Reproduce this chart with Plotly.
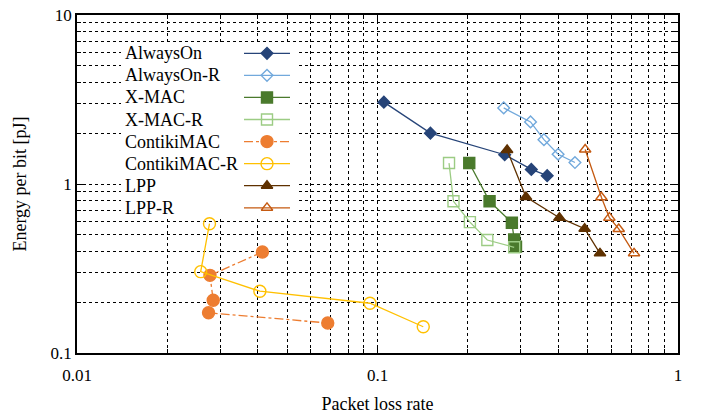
import plotly.graph_objects as go

# ---------------- data ----------------
series_names = ["AlwaysOn", "AlwaysOn-R", "X-MAC", "X-MAC-R",
                "ContikiMAC", "ContikiMAC-R", "LPP", "LPP-R"]

alwayson_x = [0.105, 0.150, 0.265, 0.325, 0.367]
alwayson_y = [3.05, 2.00, 1.49, 1.22, 1.12]

alwayson_r_x = [0.263, 0.323, 0.358, 0.399, 0.454]
alwayson_r_y = [2.82, 2.33, 1.83, 1.50, 1.34]

xmac_x = [0.202, 0.236, 0.280, 0.285, 0.289]
xmac_y = [1.33, 0.79, 0.59, 0.47, 0.426]

xmac_r_x = [0.173, 0.179, 0.203, 0.232, 0.285]
xmac_r_y = [1.33, 0.79, 0.595, 0.466, 0.422]

contiki_x = [0.0414, 0.0277, 0.0284, 0.0274, 0.0683]
contiki_y = [0.396, 0.288, 0.205, 0.173, 0.1505]

contiki_r_x = [0.0276, 0.0258, 0.0406, 0.0944, 0.142]
contiki_r_y = [0.582, 0.303, 0.232, 0.197, 0.143]

lpp_x = [0.270, 0.312, 0.403, 0.489, 0.550]
lpp_y = [1.59, 0.838, 0.632, 0.544, 0.389]

lpp_r_x = [0.491, 0.556, 0.591, 0.635, 0.714]
lpp_r_y = [1.60, 0.835, 0.632, 0.542, 0.389]

x_tick_vals = [0.01, 0.1, 1]
x_tick_text = ["0.01", "0.1", "1"]
y_tick_vals = [0.1, 1, 10]
y_tick_text = ["0.1", "1", "10"]

# ---------------- styles ----------------
xs = [alwayson_x, alwayson_r_x, xmac_x, xmac_r_x, contiki_x, contiki_r_x, lpp_x, lpp_r_x]
ys = [alwayson_y, alwayson_r_y, xmac_y, xmac_r_y, contiki_y, contiki_r_y, lpp_y, lpp_r_y]
colors = ["#264478", "#72a9dc", "#4a7a2c", "#9ccc84",
          "#ed7d31", "#ffc000", "#5f3100", "#c55a11"]
symbols = ["diamond", "diamond-open", "square", "square-open",
           "circle", "circle-open", "triangle-up", "triangle-up-open"]
sizes = [9, 9, 11, 11, 12, 12, 10, 10]
dashes = ["solid", "solid", "solid", "solid", "dashdot", "solid", "solid", "solid"]

FONT = "Liberation Serif, Times New Roman, serif"

W, H = 702, 414
PLOT_L, PLOT_R, PLOT_T, PLOT_B = 77, 678, 15, 353   # plot box in page px
ML, MT, MR, MB = PLOT_L, PLOT_T, W - PLOT_R, H - PLOT_B
PW, PH = PLOT_R - PLOT_L, PLOT_B - PLOT_T


def fx(px):
    return (px - PLOT_L) / PW


def fy(py):
    return (PLOT_B - py) / PH


fig = go.Figure()

for i, name in enumerate(series_names):
    fig.add_trace(go.Scatter(
        x=xs[i], y=ys[i], mode="lines+markers", name=name,
        line=dict(color=colors[i], width=1.3, dash=dashes[i]),
        marker=dict(symbol=symbols[i], size=sizes[i], color=colors[i],
                    line=dict(color=colors[i], width=1.4)),
        showlegend=False,
    ))

# ---------------- custom legend (text left, sample right) ----------------
BOX = (121, 298, 44, 217)
ROW0, ROWDY = 53.3, 22.07
TXT_X, S_X0, S_X1 = 123, 244, 290

fig.add_trace(go.Scatter(
    x=[fx(BOX[0]), fx(BOX[1]), fx(BOX[1]), fx(BOX[0]), fx(BOX[0])],
    y=[fy(BOX[2]), fy(BOX[2]), fy(BOX[3]), fy(BOX[3]), fy(BOX[2])],
    mode="lines", fill="toself", fillcolor="white", line=dict(width=0, color="white"),
    xaxis="x2", yaxis="y2", showlegend=False, hoverinfo="skip"))

annotations = []
for i, name in enumerate(series_names):
    ry = fy(ROW0 + i * ROWDY)
    fig.add_trace(go.Scatter(
        x=[fx(S_X0), fx(S_X1)], y=[ry, ry], mode="lines",
        line=dict(color=colors[i], width=1.3, dash=dashes[i]),
        xaxis="x2", yaxis="y2", showlegend=False, hoverinfo="skip"))
    fig.add_trace(go.Scatter(
        x=[fx((S_X0 + S_X1) / 2)], y=[ry], mode="markers",
        marker=dict(symbol=symbols[i], size=sizes[i], color=colors[i],
                    line=dict(color=colors[i], width=1.4)),
        xaxis="x2", yaxis="y2", showlegend=False, hoverinfo="skip"))
    annotations.append(dict(
        x=fx(TXT_X), y=ry, xref="paper", yref="paper", text=name,
        showarrow=False, xanchor="left", yanchor="middle",
        font=dict(family=FONT, size=18, color="black")))

minor_x = [m * 10 ** e for e in (-2, -1) for m in range(2, 10)]
minor_y = [m * 10 ** e for e in (-1, 0) for m in range(2, 10)]

axis_common = dict(
    type="log", showline=True, linecolor="black", linewidth=1.5, mirror="ticks",
    ticks="inside", ticklen=8, tickwidth=1, tickcolor="black",
    showgrid=True, gridcolor="black", gridwidth=1, griddash="dot",
    zeroline=False, automargin=False, ticklabeloverflow="allow",
    tickfont=dict(family=FONT, size=17, color="black"),
)

fig.update_layout(
    width=W, height=H,
    margin=dict(l=ML, r=MR, t=MT, b=MB, autoexpand=False),
    paper_bgcolor="white", plot_bgcolor="white",
    font=dict(family=FONT, color="black"),
    xaxis=dict(
        **axis_common, range=[-2, 0], ticklabelstandoff=6,
        tickmode="array", tickvals=x_tick_vals, ticktext=x_tick_text,
        minor=dict(tickmode="array", tickvals=minor_x, ticks="inside", ticklen=4,
                   tickcolor="black", showgrid=True, gridcolor="black",
                   gridwidth=1, griddash="dot"),
        title=dict(text="Packet loss rate", font=dict(family=FONT, size=18), standoff=25),
    ),
    yaxis=dict(
        **axis_common, range=[-1, 1],
        tickmode="array", tickvals=y_tick_vals, ticktext=y_tick_text,
        minor=dict(tickmode="array", tickvals=minor_y, ticks="inside", ticklen=4,
                   tickcolor="black", showgrid=True, gridcolor="black",
                   gridwidth=1, griddash="dot"),
        title=dict(text="Energy per bit [pJ]", font=dict(family=FONT, size=18), standoff=19),
    ),
    xaxis2=dict(overlaying="x", range=[0, 1], visible=False, fixedrange=True),
    yaxis2=dict(overlaying="y", range=[0, 1], visible=False, fixedrange=True),
    annotations=annotations,
    showlegend=False,
)

# remove the browser's default 8px body margin so the figure fills the window
fig.write_html("out.html", config={"displayModeBar": False},
               post_script="document.body.style.margin='0';")
